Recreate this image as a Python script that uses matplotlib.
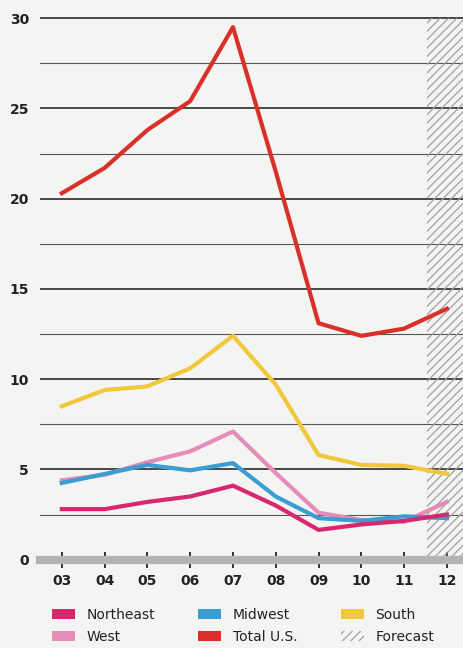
import matplotlib.pyplot as plt
from matplotlib.patches import Patch
from matplotlib.ticker import MultipleLocator

years = [3, 4, 5, 6, 7, 8, 9, 10, 11, 12]
year_labels = ["03", "04", "05", "06", "07", "08", "09", "10", "11", "12"]

northeast = [2.8, 2.8, 3.2, 3.5, 4.1, 3.0, 1.65, 1.95, 2.15, 2.5]
west = [4.4, 4.7, 5.4, 6.0, 7.1, 4.8, 2.6, 2.2, 2.1, 3.2]
midwest = [4.25, 4.75, 5.25, 4.95, 5.35, 3.5, 2.3, 2.15, 2.4, 2.3]
south = [8.5, 9.4, 9.6, 10.6, 12.4, 9.7, 5.8, 5.25, 5.2, 4.75]
total_us = [20.3, 21.7, 23.8, 25.4, 29.5, 21.5, 13.1, 12.4, 12.8, 13.9]

forecast_start = 11.53

colors = {
    "Northeast": "#d8266f",
    "West": "#e58cb8",
    "Midwest": "#3a9ed2",
    "Total U.S.": "#d9302a",
    "South": "#f1c73b",
}
bg = "#f4f4f2"
hatch_col = '#a0a0a0'

plt.rcParams['font.family'] = ['DejaVu Sans']
plt.rcParams['hatch.color'] = hatch_col
plt.rcParams['hatch.linewidth'] = 0.9

fig = plt.figure(figsize=(4.64, 6.48), dpi=100, facecolor=bg)
ax = fig.add_axes([40/464, 1 - 566/648, 1 - 40/464, 556/648])
ax.set_facecolor(bg)

ax.set_xlim(2.49, 12.4)
ax.set_ylim(-0.35, 30.45)

# forecast hatch
ax.fill_between([forecast_start, 12.6], 0, 30, facecolor='none',
                hatch='////', edgecolor=hatch_col, linewidth=0, zorder=1)

# grid lines
ax.yaxis.set_major_locator(MultipleLocator(5))
ax.yaxis.set_minor_locator(MultipleLocator(2.5))
ax.grid(axis='y', which='major', color='#1a1a1a', linewidth=1.1)
ax.grid(axis='y', which='minor', color='#555555', linewidth=0.8)
ax.set_axisbelow(True)

lw = 3.0
ax.plot(years, west, color=colors["West"], lw=lw, zorder=3)
ax.plot(years, midwest, color=colors["Midwest"], lw=lw, zorder=4)
ax.plot(years, northeast, color=colors["Northeast"], lw=lw, zorder=5)
ax.plot(years, south, color=colors["South"], lw=lw, zorder=6)
ax.plot(years, total_us, color=colors["Total U.S."], lw=lw, zorder=7)

for s in ['left', 'right', 'top']:
    ax.spines[s].set_visible(False)
ax.spines['bottom'].set_position(('data', 0))
ax.spines['bottom'].set_color('#b4b4b4')
ax.spines['bottom'].set_linewidth(6)
ax.spines['bottom'].set_zorder(8)

ax.set_xticks(years)
ax.set_xticklabels(year_labels)
ax.tick_params(axis='x', direction='inout', length=12, width=1.3,
               color='#222222', pad=4, labelsize=10, labelcolor='#222222')
ax.tick_params(axis='y', which='both', length=0, pad=8,
               labelsize=10, labelcolor='#222222')
ax.tick_params(axis='y', which='minor', labelleft=False)
for t in ax.get_xticklabels() + ax.get_yticklabels():
    t.set_fontweight('bold')

handles = [
    Patch(facecolor=colors["Northeast"], label="Northeast"),
    Patch(facecolor=colors["West"], label="West"),
    Patch(facecolor=colors["Midwest"], label="Midwest"),
    Patch(facecolor=colors["Total U.S."], label="Total U.S."),
    Patch(facecolor=colors["South"], label="South"),
    Patch(facecolor='none', edgecolor=hatch_col, linewidth=0,
          hatch='////', label="Forecast"),
]
fig.legend(handles=handles, ncol=3, loc='upper left',
           bbox_to_anchor=(0.085, 0.081), frameon=False, fontsize=10,
           handlelength=1.65, handleheight=0.72, handletextpad=0.85,
           columnspacing=3.1, labelspacing=0.55, labelcolor='#222222')

fig.savefig("out.png", dpi=100, facecolor=bg)
